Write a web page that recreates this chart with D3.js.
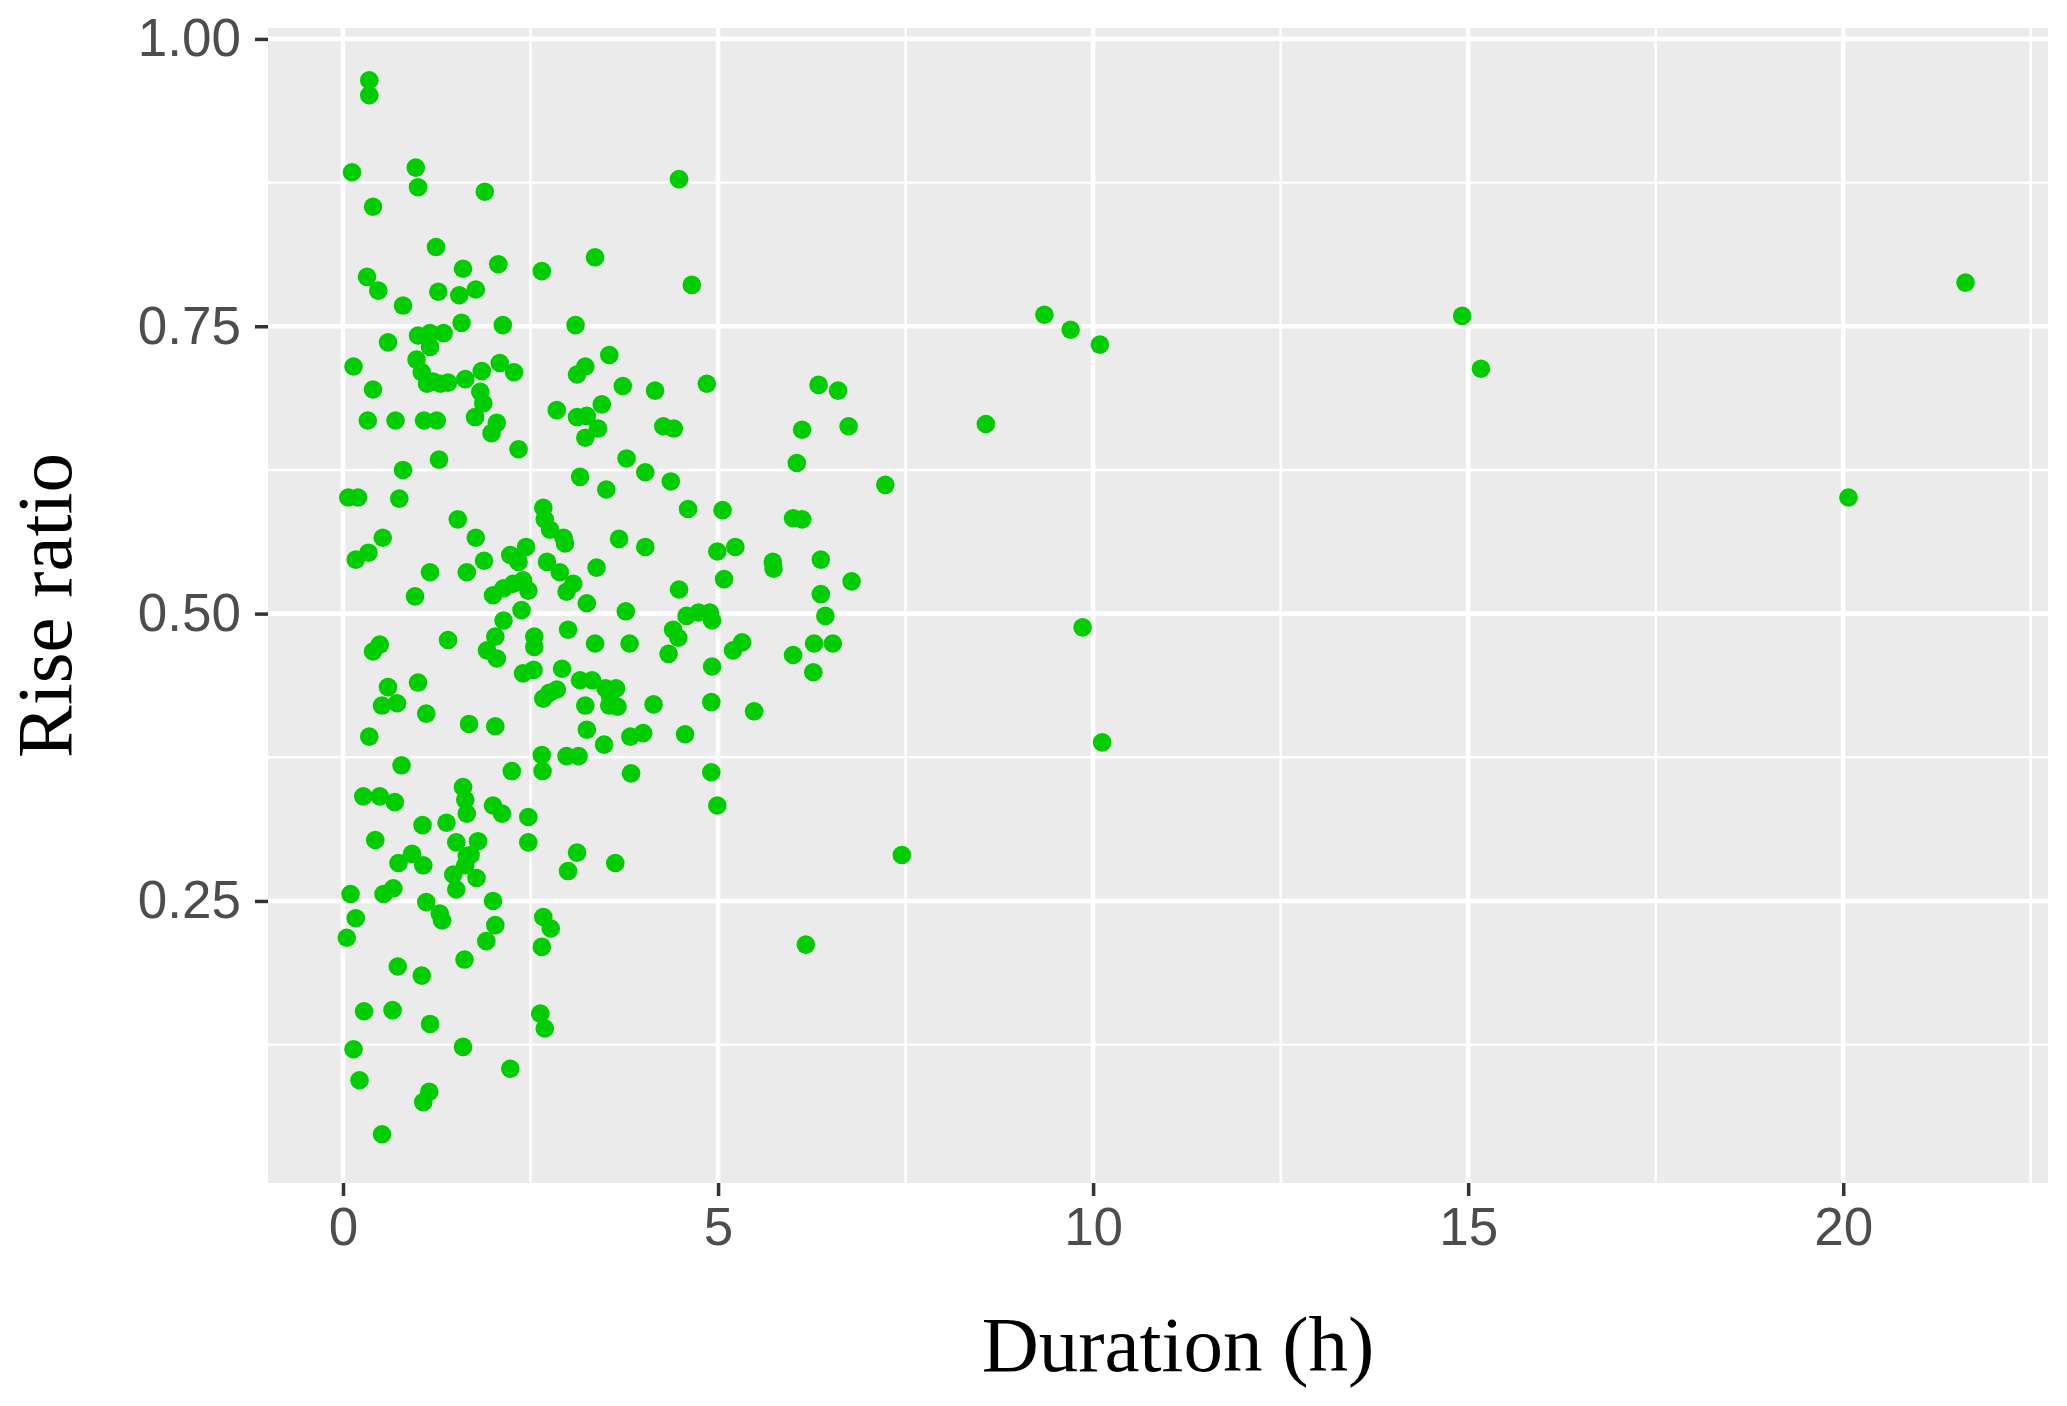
<!DOCTYPE html>
<html>
<head>
<meta charset="utf-8">
<script src="https://cdn.jsdelivr.net/npm/d3@7"></script>
<style>
  body { margin: 0; background: #fff; }
  svg { display: block; }
</style>
</head>
<body>
<svg id="chart" viewBox="0 0 2067 1406" width="2067" height="1406"></svg>
<script>
// duration (h), rise ratio
const obs = [
  [0.35,0.964],[0.35,0.951],[0.12,0.884],[0.97,0.888],[1.00,0.871],[1.89,0.867],[0.40,0.854],[1.24,0.819],
  [1.60,0.800],[2.07,0.804],[2.65,0.798],[3.36,0.810],[0.32,0.793],[0.47,0.781],[0.80,0.768],[1.27,0.780],
  [1.55,0.777],[1.77,0.782],[1.58,0.753],[2.13,0.751],[3.10,0.751],[0.60,0.736],[1.00,0.742],[1.16,0.744],
  [1.34,0.744],[1.16,0.732],[0.14,0.715],[0.98,0.721],[1.05,0.710],[1.20,0.702],[1.40,0.701],[1.63,0.704],
  [1.85,0.711],[2.09,0.718],[2.28,0.710],[0.40,0.695],[1.83,0.693],[1.87,0.683],[0.33,0.668],[0.70,0.668],
  [1.08,0.668],[1.25,0.668],[1.76,0.671],[2.05,0.666],[1.98,0.657],[2.34,0.643],[2.85,0.677],[3.12,0.671],
  [3.25,0.672],[3.23,0.715],[3.12,0.708],[3.55,0.725],[3.73,0.698],[3.45,0.682],[3.40,0.661],[3.23,0.653],
  [1.30,0.700],[1.12,0.700],
  [4.48,0.878],[4.65,0.786],[4.16,0.694],[4.85,0.700],[4.27,0.663],[4.41,0.661],[6.34,0.699],[6.60,0.694],
  [6.12,0.660],[6.74,0.663],
  [0.80,0.625],[1.28,0.634],[0.07,0.601],[0.20,0.601],[0.75,0.600],[1.53,0.582],[1.77,0.566],[0.53,0.566],
  [0.34,0.553],[0.17,0.547],[1.16,0.536],[1.65,0.536],[1.88,0.546],[0.96,0.515],[2.23,0.551],[2.44,0.558],
  [2.34,0.545],[2.67,0.592],[2.69,0.582],[2.76,0.573],[2.94,0.566],[2.96,0.561],[3.16,0.619],[3.51,0.608],
  [3.38,0.540],[2.72,0.545],[2.89,0.536],[3.07,0.526],[2.98,0.519],[3.25,0.509],[2.00,0.516],[2.14,0.522],
  [2.27,0.526],[2.40,0.529],[2.47,0.520],[2.38,0.503],[2.14,0.494],[2.03,0.480],[1.92,0.468],[2.05,0.461],
  [2.55,0.480],[2.55,0.471],[1.40,0.477],[0.40,0.467],[0.49,0.473],[3.00,0.486],[3.36,0.474],[2.40,0.448],
  [2.54,0.451],[2.92,0.452],[3.16,0.442],[3.32,0.442],[2.67,0.426],[2.75,0.431],[2.85,0.434],[3.23,0.420],
  [3.56,0.428],[3.25,0.399],[3.48,0.386],[0.60,0.436],[0.52,0.420],[0.72,0.422],[1.00,0.440],[1.11,0.413],
  [1.68,0.404],[2.03,0.402],[0.35,0.393],[0.78,0.368],[2.25,0.363],[2.65,0.377],[2.66,0.363],[2.98,0.376],
  [3.14,0.376],[1.60,0.349],[1.63,0.338],[1.65,0.326],[0.27,0.341],[0.49,0.341],[0.69,0.336],[2.00,0.333],
  [2.12,0.326],[2.47,0.323],[1.06,0.316],[1.38,0.318],[3.50,0.435],[3.64,0.435],[3.66,0.419],[3.55,0.420],
  [3.78,0.635],[4.03,0.623],[4.37,0.615],[4.60,0.591],[5.06,0.590],[6.05,0.631],[7.23,0.612],[6.00,0.583],
  [6.12,0.582],[3.68,0.565],[4.03,0.558],[4.99,0.554],[5.23,0.558],[5.73,0.545],[5.74,0.539],[6.37,0.547],
  [6.78,0.528],[5.08,0.530],[4.48,0.521],[6.37,0.517],[6.43,0.498],[3.77,0.502],[4.58,0.498],[4.74,0.501],
  [4.89,0.501],[4.92,0.494],[4.40,0.486],[4.47,0.479],[4.34,0.465],[3.82,0.474],[5.32,0.475],[5.20,0.468],
  [4.92,0.454],[6.00,0.464],[6.28,0.474],[6.53,0.474],[6.27,0.449],[4.14,0.421],[4.91,0.423],[5.48,0.415],
  [3.83,0.393],[4.00,0.396],[4.56,0.395],[3.84,0.361],[4.91,0.362],[4.99,0.333],
  [0.43,0.303],[0.74,0.283],[0.92,0.291],[1.07,0.281],[1.51,0.301],[1.80,0.302],[1.65,0.289],[1.63,0.281],
  [1.47,0.273],[1.78,0.270],[1.51,0.260],[1.70,0.290],[2.47,0.301],[3.12,0.292],[3.00,0.276],[3.63,0.283],
  [0.10,0.256],[0.54,0.256],[0.67,0.261],[1.11,0.249],[1.29,0.239],[1.32,0.233],[2.00,0.250],[2.03,0.229],
  [1.91,0.215],[0.17,0.235],[0.05,0.218],[2.67,0.236],[2.77,0.226],[2.65,0.210],[1.62,0.199],[0.73,0.193],
  [1.05,0.185],[0.28,0.154],[0.66,0.155],[1.16,0.143],[2.63,0.152],[2.69,0.139],[0.14,0.121],[1.60,0.123],
  [2.23,0.104],[0.22,0.094],[1.15,0.084],[1.07,0.075],[0.52,0.047],
  [6.17,0.212],[7.45,0.290],[8.57,0.665],[9.35,0.760],[9.70,0.747],[10.09,0.734],[9.86,0.488],[10.12,0.388],
  [14.92,0.759],[15.17,0.713],[20.07,0.601],[21.63,0.788]
]

const xTicks = [0, 5, 10, 15, 20]
const xMinor = [2.5, 7.5, 12.5, 17.5, 22.5]
const yTicks = [0.25, 0.50, 0.75, 1.00]
const yMinor = [0.125, 0.375, 0.625, 0.875]

const svg = d3.select("#chart")
const panel = {left: 268, right: 2048, top: 28, bottom: 1183}

const x = d3.scaleLinear().domain([-1.0, 22.73]).range([panel.left, panel.right])
const y = d3.scaleLinear().domain([0.0046, 1.0095]).range([panel.bottom, panel.top])

svg.append("rect")
    .attr("width", 2067).attr("height", 1406).attr("fill", "#fff")

svg.append("rect")
    .attr("x", panel.left).attr("y", panel.top)
    .attr("width", panel.right - panel.left)
    .attr("height", panel.bottom - panel.top)
    .attr("fill", "#EBEBEB")

const grid = svg.append("g")
// minor grid first
grid.selectAll(".vminor").data(xMinor).enter().append("line")
    .attr("x1", d => x(d)).attr("x2", d => x(d))
    .attr("y1", panel.top).attr("y2", panel.bottom)
    .attr("stroke", "#fff").attr("stroke-width", 2.4)
grid.selectAll(".hminor").data(yMinor).enter().append("line")
    .attr("y1", d => y(d)).attr("y2", d => y(d))
    .attr("x1", panel.left).attr("x2", panel.right)
    .attr("stroke", "#fff").attr("stroke-width", 2.4)
grid.selectAll(".vmajor").data(xTicks).enter().append("line")
    .attr("x1", d => x(d)).attr("x2", d => x(d))
    .attr("y1", panel.top).attr("y2", panel.bottom)
    .attr("stroke", "#fff").attr("stroke-width", 4.6)
grid.selectAll(".hmajor").data(yTicks).enter().append("line")
    .attr("y1", d => y(d)).attr("y2", d => y(d))
    .attr("x1", panel.left).attr("x2", panel.right)
    .attr("stroke", "#fff").attr("stroke-width", 4.6)

// axes
const xAxis = svg.append("g")
    .attr("transform", `translate(0,${panel.bottom})`)
    .call(d3.axisBottom(x).tickValues(xTicks).tickFormat(d3.format("d"))
        .tickSize(13).tickPadding(11))
const yAxis = svg.append("g")
    .attr("transform", `translate(${panel.left},0)`)
    .call(d3.axisLeft(y).tickValues(yTicks).tickFormat(d3.format(".2f"))
        .tickSize(13).tickPadding(14))

for (const ax of [xAxis, yAxis]) {
    ax.select(".domain").remove()
    ax.selectAll(".tick line").attr("stroke", "#333333").attr("stroke-width", 3.5)
    ax.selectAll(".tick text")
        .attr("fill", "#4D4D4D")
        .style("font-family", "'Liberation Sans', Arial, sans-serif")
        .style("font-size", "53px")
}

// points
svg.append("g")
    .selectAll("circle")
    .data(obs)
    .enter()
    .append("circle")
    .attr("cx", d => x(d[0]))
    .attr("cy", d => y(d[1]))
    .attr("r", 9.3)
    .attr("fill", "#00CD00")

// axis titles
svg.append("text")
    .attr("x", 1178).attr("y", 1371)
    .attr("text-anchor", "middle")
    .style("font-family", "'Liberation Serif', 'Times New Roman', serif")
    .style("font-size", "79px")
    .attr("fill", "#000")
    .text("Duration (h)")

svg.append("text")
    .attr("transform", `translate(71,${(panel.top + panel.bottom) / 2}) rotate(-90)`)
    .attr("text-anchor", "middle")
    .style("font-family", "'Liberation Serif', 'Times New Roman', serif")
    .style("font-size", "79px")
    .attr("fill", "#000")
    .text("Rise ratio")
</script>
</body>
</html>
